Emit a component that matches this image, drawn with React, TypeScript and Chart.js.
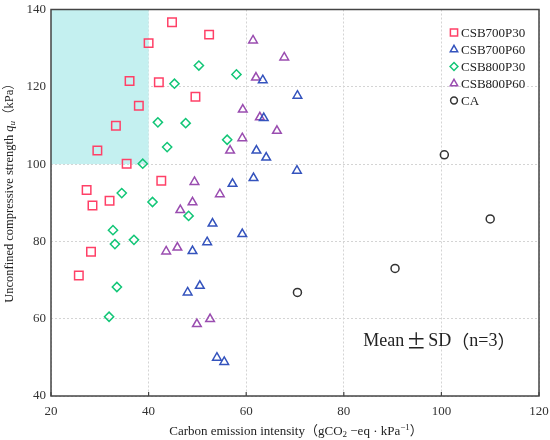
import React, { useEffect, useRef } from 'react';
import { Chart, registerables } from 'chart.js';
import type { Plugin } from 'chart.js';

Chart.register(...registerables);

// values
const csb700p30X = [44.8, 40.0, 36.1, 42.1, 38.0, 33.3, 29.5, 35.5, 42.6, 27.3, 52.4, 49.6, 28.5, 32.0, 28.2, 25.7];
const csb700p30Y = [136.7, 131.3, 121.5, 121.2, 115.1, 109.9, 103.5, 100.1, 95.7, 93.3, 133.5, 117.4, 89.3, 90.5, 77.3, 71.2];

const csb700p60X = [63.4, 70.5, 63.6, 62.1, 64.1, 70.4, 61.5, 57.2, 53.1, 59.2, 52.0, 49.0, 50.5, 48.0, 54.0, 55.5];
const csb700p60Y = [121.7, 117.7, 111.9, 103.5, 101.7, 98.3, 96.4, 94.9, 84.6, 81.9, 79.8, 77.5, 68.5, 66.8, 49.9, 48.8];

const csb800p30X = [50.3, 45.3, 41.9, 47.6, 43.8, 38.8, 34.5, 58.0, 56.1, 40.8, 48.2, 32.7, 33.1, 37.0, 33.5, 31.9];
const csb800p30Y = [125.5, 120.8, 110.8, 110.6, 104.4, 100.1, 92.5, 123.2, 106.3, 90.2, 86.6, 82.9, 79.3, 80.4, 68.2, 60.5];

const csb800p60X = [61.4, 67.8, 62.0, 59.3, 62.8, 66.3, 59.2, 56.7, 49.4, 54.6, 46.5, 49.0, 43.6, 45.9, 49.9, 52.6];
const csb800p60Y = [132.0, 127.6, 122.4, 114.1, 112.1, 108.6, 106.7, 103.5, 95.4, 92.2, 88.1, 90.1, 77.4, 78.4, 58.6, 59.9];

const caX = [70.5, 90.5, 100.6, 110.0];
const caY = [66.8, 73.0, 102.4, 85.8];

const seriesNames = ['CSB700P30', 'CSB700P60', 'CSB800P30', 'CSB800P60', 'CA'];

// shaded target zone (x from..to, y from..to)
const zoneX = [20, 40];
const zoneY = [100, 140];

const SERIF = '"Liberation Serif", "Noto Sans CJK SC", serif';
const CJK = '"Noto Sans CJK SC", serif';

const toPoints = (xs: number[], ys: number[]) => xs.map((x, i) => ({ x, y: ys[i] }));

type Run = { text: string; size: number; italic?: boolean; dy?: number; family?: string; pad?: number };

// draws a line of text made of runs (for sub/superscripts); align 'center' or 'left' on x
function drawRuns(ctx: CanvasRenderingContext2D, runs: Run[], x: number, y: number, align = 'center') {
  const fontOf = (r: Run) => `${r.italic ? 'italic ' : ''}${r.size}px ${r.family || SERIF}`;
  const widthOf = (r: Run) => {
    ctx.font = fontOf(r);
    return ctx.measureText(r.text).width + 2 * (r.pad || 0);
  };
  const total = runs.reduce((s, r) => s + widthOf(r), 0);
  let cx = align === 'center' ? x - total / 2 : x;
  runs.forEach(r => {
    const w = widthOf(r);
    ctx.font = fontOf(r);
    ctx.fillText(r.text, cx + (r.pad || 0), y + (r.dy || 0));
    cx += w;
  });
}

// legend marker, same shapes Chart.js uses for the points
function drawMarker(ctx: CanvasRenderingContext2D, style: string, r: number, x: number, y: number) {
  ctx.beginPath();
  if (style === 'rect') {
    const h = r * Math.SQRT1_2;
    ctx.rect(x - h, y - h, 2 * h, 2 * h);
  } else if (style === 'rectRot') {
    ctx.moveTo(x, y - r);
    ctx.lineTo(x + r, y);
    ctx.lineTo(x, y + r);
    ctx.lineTo(x - r, y);
    ctx.closePath();
  } else if (style === 'triangle') {
    const a = Math.PI / 3;
    ctx.moveTo(x, y - r);
    ctx.lineTo(x + Math.sin(a) * r, y + Math.cos(a) * r);
    ctx.lineTo(x - Math.sin(a) * r, y + Math.cos(a) * r);
    ctx.closePath();
  } else {
    ctx.arc(x, y, r, 0, Math.PI * 2);
  }
  ctx.stroke();
}

const decorPlugin: Plugin<'scatter'> = {
  id: 'decorPlugin',
  beforeDatasetsDraw: (chart) => {
    const { ctx, scales } = chart;
    const xs = scales.x;
    const ys = scales.y;
    ctx.save();
    ctx.fillStyle = '#c4f0f0';
    const l = xs.getPixelForValue(zoneX[0]);
    const r = xs.getPixelForValue(zoneX[1]);
    const t = ys.getPixelForValue(zoneY[1]);
    const b = ys.getPixelForValue(zoneY[0]);
    ctx.fillRect(l, t, r - l, b - t);
    ctx.restore();
  },
  afterDraw: (chart) => {
    const { ctx, chartArea: ca, scales } = chart;
    ctx.save();

    // frame
    ctx.strokeStyle = '#444';
    ctx.lineWidth = 1.5;
    ctx.strokeRect(ca.left, ca.top, ca.right - ca.left, ca.bottom - ca.top);

    // small inward ticks on the bottom axis
    ctx.lineWidth = 1.2;
    scales.x.ticks.forEach(tk => {
      const px = scales.x.getPixelForValue(tk.value);
      ctx.beginPath();
      ctx.moveTo(px, ca.bottom);
      ctx.lineTo(px, ca.bottom - 4);
      ctx.stroke();
    });

    // legend
    const lx = ca.right - 85;
    chart.data.datasets.forEach((ds: any, i: number) => {
      const ly = ca.top + 23 + i * 17;
      ctx.strokeStyle = ds.borderColor;
      ctx.lineWidth = 1.5;
      drawMarker(ctx, ds.pointStyle, ds.pointRadius * 0.85, lx, ly);
      ctx.fillStyle = '#222';
      ctx.font = `13px ${SERIF}`;
      ctx.textAlign = 'left';
      ctx.textBaseline = 'middle';
      ctx.fillText(ds.label, lx + 7, ly + 1);
    });

    // note
    ctx.fillStyle = '#222';
    ctx.textAlign = 'left';
    ctx.textBaseline = 'middle';
    drawRuns(ctx, [
      { text: 'Mean', size: 18 },
      { text: '±', size: 20, family: CJK, pad: 2 },
      { text: 'SD', size: 18 },
      { text: '（', size: 18, family: CJK },
      { text: 'n=3', size: 18 },
      { text: '）', size: 18, family: CJK },
    ], scales.x.getPixelForValue(84.0), scales.y.getPixelForValue(54.2), 'left');

    // x axis title
    drawRuns(ctx, [
      { text: 'Carbon emission intensity（gCO', size: 13 },
      { text: '2', size: 9, dy: 3 },
      { text: ' −eq · kPa', size: 13 },
      { text: '−1', size: 9, dy: -4 },
      { text: '）', size: 13 },
    ], 296, 432);

    // y axis title
    ctx.translate(10, 190);
    ctx.rotate(-Math.PI / 2);
    drawRuns(ctx, [
      { text: 'Unconfined compressive strength ', size: 12.5 },
      { text: 'q', size: 12.5, italic: true },
      { text: 'u', size: 9, italic: true, dy: 3 },
      { text: '（kPa）', size: 12.5 },
    ], 0, 0);

    ctx.restore();
  },
};

const App: React.FC = () => {
  const canvasRef = useRef<HTMLCanvasElement>(null);

  useEffect(() => {
    document.body.style.margin = '0';
    if (!canvasRef.current) return;

    const grid = {
      color: '#d4d4d4',
      lineWidth: 1,
      drawTicks: false,
    };

    const chart = new Chart(canvasRef.current, {
      type: 'scatter',
      data: {
        datasets: [
          {
            label: seriesNames[0],
            data: toPoints(csb700p30X, csb700p30Y),
            pointStyle: 'rect',
            pointRadius: 6,
            borderColor: '#ff4067',
            backgroundColor: 'rgba(0,0,0,0)',
            pointBorderWidth: 1.5,
          },
          {
            label: seriesNames[1],
            data: toPoints(csb700p60X, csb700p60Y),
            pointStyle: 'triangle',
            pointRadius: 5,
            borderColor: '#3453bd',
            backgroundColor: 'rgba(0,0,0,0)',
            pointBorderWidth: 1.5,
          },
          {
            label: seriesNames[2],
            data: toPoints(csb800p30X, csb800p30Y),
            pointStyle: 'rectRot',
            pointRadius: 4.6,
            borderColor: '#12c677',
            backgroundColor: 'rgba(0,0,0,0)',
            pointBorderWidth: 1.5,
          },
          {
            label: seriesNames[3],
            data: toPoints(csb800p60X, csb800p60Y),
            pointStyle: 'triangle',
            pointRadius: 5,
            borderColor: '#9a4db0',
            backgroundColor: 'rgba(0,0,0,0)',
            pointBorderWidth: 1.5,
          },
          {
            label: seriesNames[4],
            data: toPoints(caX, caY),
            pointStyle: 'circle',
            pointRadius: 4,
            borderColor: '#333333',
            backgroundColor: 'rgba(0,0,0,0)',
            pointBorderWidth: 1.5,
          },
        ],
      },
      options: {
        responsive: false,
        animation: false,
        devicePixelRatio: 1,
        layout: { padding: 0 },
        scales: {
          x: {
            type: 'linear',
            min: 20,
            max: 120,
            ticks: {
              stepSize: 20,
              padding: 8,
              color: '#333',
              font: { family: SERIF, size: 13 },
            },
            grid: { ...grid },
            border: { display: false, dash: [2, 2] },
            afterFit: (s: any) => {
              s.height = 44;
              s.paddingLeft = 0;
              s.paddingRight = 11;
            },
          },
          y: {
            type: 'linear',
            min: 40,
            max: 140,
            ticks: {
              stepSize: 20,
              padding: 5,
              color: '#333',
              font: { family: SERIF, size: 13 },
            },
            grid: { ...grid },
            border: { display: false, dash: [2, 2] },
            afterFit: (s: any) => {
              s.width = 51;
              s.paddingTop = 9.5;
              s.paddingBottom = 0;
            },
          },
        },
        plugins: {
          legend: { display: false },
          tooltip: { enabled: false },
        },
      },
      plugins: [decorPlugin],
    });

    return () => chart.destroy();
  }, []);

  return (
    <div style={{ width: 550, height: 440, background: '#fff' }}>
      <canvas ref={canvasRef} width={550} height={440} />
    </div>
  );
};

export default App;
